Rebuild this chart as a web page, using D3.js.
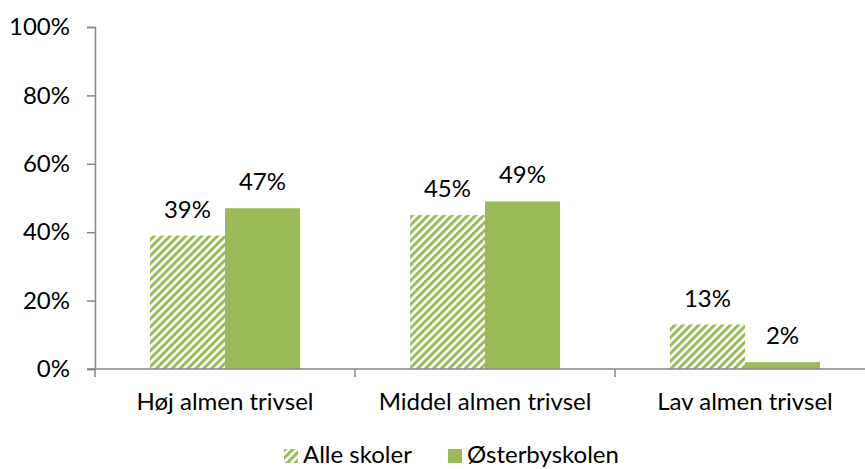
<!DOCTYPE html>
<html>
<head>
<meta charset="utf-8">
<script src="https://cdn.jsdelivr.net/npm/d3@7"></script>
<style>
  body { margin:0; background:#fff; }
  text { font-family: Lato, "Open Sans", sans-serif; fill:#000; }
</style>
</head>
<body>
<script>
var categories = ["Høj almen trivsel", "Middel almen trivsel", "Lav almen trivsel"];
var seriesNames = ["Alle skoler", "Østerbyskolen"];
var alleSkoler = [39, 45, 13];
var osterby = [47, 49, 2];
var yTicks = [0, 20, 40, 60, 80, 100];

var svgW = 865, svgH = 469, green = "#9BBB59", axisCol = "#868686", fs = "24px";
var m = {l:95, r:-10, t:27, b:100};

var svg = d3.select("body").append("svg").attr("width", svgW).attr("height", svgH);

var defs = svg.append("defs");
var pat = defs.append("pattern").attr("id","hatch").attr("patternUnits","userSpaceOnUse")
    .attr("width",5.6).attr("height",5.6).attr("patternTransform","rotate(45)");
pat.append("rect").attr("width",5.6).attr("height",5.6).attr("fill","#fff");
pat.append("rect").attr("x",0).attr("width",3).attr("height",5.6).attr("fill",green);

var x = d3.scaleBand().domain(categories).range([m.l, svgW - m.r]).paddingInner(0).paddingOuter(0);
var x1 = d3.scaleBand().domain(seriesNames).range([55, x.bandwidth() - 55]);
var y = d3.scaleLinear().domain([0,100]).range([369, 27]);

// y axis
var ya = svg.append("g").attr("transform","translate(" + m.l + ",0)")
    .call(d3.axisLeft(y).tickValues(yTicks).tickSize(8).tickPadding(17).tickFormat(function(d){ return d + "%"; }));
ya.select(".domain").attr("stroke", axisCol).attr("stroke-width",1.5);
ya.selectAll("line").attr("stroke", axisCol).attr("stroke-width",1.5);
ya.selectAll("text").style("font-size",fs).style("font-family","Lato, 'Open Sans', sans-serif").attr("fill","#000");

var data = [];
categories.forEach(function(c,i){
    data.push({c:c, s:seriesNames[0], v:alleSkoler[i]});
    data.push({c:c, s:seriesNames[1], v:osterby[i]});
});

svg.append("g").selectAll("rect").data(data).enter().append("rect")
    .attr("x", function(d){ return x(d.c) + x1(d.s); })
    .attr("y", function(d){ return y(d.v); })
    .attr("width", x1.bandwidth())
    .attr("height", function(d){ return y(0) - y(d.v); })
    .attr("fill", function(d){ return d.s == seriesNames[0] ? "url(#hatch)" : green; });

svg.append("g").selectAll("text").data(data).enter().append("text")
    .attr("x", function(d){ return x(d.c) + x1(d.s) + x1.bandwidth()/2; })
    .attr("y", function(d){ return y(d.v) - 18; })
    .attr("text-anchor","middle")
    .style("font-size",fs)
    .text(function(d){ return d.v + "%"; });

// x axis
var xa = svg.append("g").attr("transform","translate(0," + y(0) + ")");
xa.append("line").attr("x1", m.l - 8).attr("x2", svgW).attr("stroke", axisCol).attr("stroke-width",1.5);
xa.selectAll(".tk").data(categories.concat([null])).enter().append("line")
    .attr("x1", function(d,i){ return m.l + i * x.bandwidth(); })
    .attr("x2", function(d,i){ return m.l + i * x.bandwidth(); })
    .attr("y1",0).attr("y2",8).attr("stroke", axisCol).attr("stroke-width",1.5);
xa.selectAll(".lbl").data(categories).enter().append("text")
    .attr("x", function(d){ return x(d) + x.bandwidth()/2; })
    .attr("y", 41).attr("text-anchor","middle").style("font-size",fs)
    .text(function(d){ return d; });

// legend
var lg = svg.append("g").attr("transform","translate(0,463)");
var items = [{n:seriesNames[0], x:284, f:"url(#hatch)"}, {n:seriesNames[1], x:448, f:green}];
items.forEach(function(it){
    lg.append("rect").attr("x", it.x).attr("y",-14).attr("width",14).attr("height",14).attr("fill", it.f);
    lg.append("text").attr("x", it.x + 19).attr("y",0).style("font-size",fs).text(it.n);
});
</script>
</body>
</html>
